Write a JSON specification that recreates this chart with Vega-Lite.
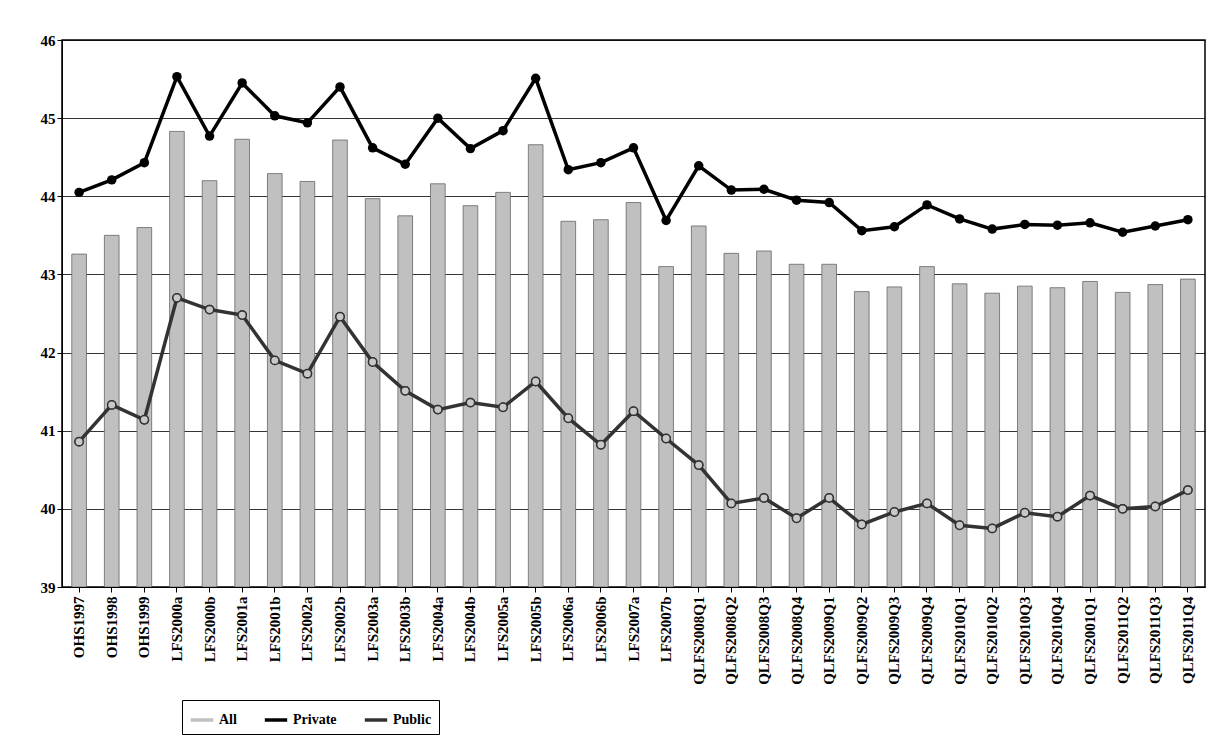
{
  "$schema": "https://vega.github.io/schema/vega-lite/v6.json",
  "width": 1143,
  "height": 547,
  "autosize": "none",
  "padding": {"left": 62, "top": 40, "right": 8, "bottom": 156},
  "background": "white",
  "config": {
    "font": "Liberation Serif",
    "view": {"stroke": "black", "strokeWidth": 1.5},
    "axis": {"labelFont": "Liberation Serif", "labelFontWeight": "bold", "labelColor": "black", "domainColor": "black", "tickColor": "black"}
  },
  "data": {"values": [
    {"c": "OHS1997", "All": 43.26, "Private": 44.05, "Public": 40.86},
    {"c": "OHS1998", "All": 43.5, "Private": 44.21, "Public": 41.33},
    {"c": "OHS1999", "All": 43.6, "Private": 44.43, "Public": 41.14},
    {"c": "LFS2000a", "All": 44.83, "Private": 45.53, "Public": 42.7},
    {"c": "LFS2000b", "All": 44.2, "Private": 44.77, "Public": 42.55},
    {"c": "LFS2001a", "All": 44.73, "Private": 45.45, "Public": 42.48},
    {"c": "LFS2001b", "All": 44.29, "Private": 45.03, "Public": 41.9},
    {"c": "LFS2002a", "All": 44.19, "Private": 44.94, "Public": 41.73},
    {"c": "LFS2002b", "All": 44.72, "Private": 45.4, "Public": 42.46},
    {"c": "LFS2003a", "All": 43.97, "Private": 44.62, "Public": 41.88},
    {"c": "LFS2003b", "All": 43.75, "Private": 44.41, "Public": 41.51},
    {"c": "LFS2004a", "All": 44.16, "Private": 45.0, "Public": 41.27},
    {"c": "LFS2004b", "All": 43.88, "Private": 44.61, "Public": 41.36},
    {"c": "LFS2005a", "All": 44.05, "Private": 44.84, "Public": 41.3},
    {"c": "LFS2005b", "All": 44.66, "Private": 45.51, "Public": 41.63},
    {"c": "LFS2006a", "All": 43.68, "Private": 44.34, "Public": 41.16},
    {"c": "LFS2006b", "All": 43.7, "Private": 44.43, "Public": 40.82},
    {"c": "LFS2007a", "All": 43.92, "Private": 44.62, "Public": 41.25},
    {"c": "LFS2007b", "All": 43.1, "Private": 43.69, "Public": 40.9},
    {"c": "QLFS2008Q1", "All": 43.62, "Private": 44.39, "Public": 40.56},
    {"c": "QLFS2008Q2", "All": 43.27, "Private": 44.08, "Public": 40.07},
    {"c": "QLFS2008Q3", "All": 43.3, "Private": 44.09, "Public": 40.14},
    {"c": "QLFS2008Q4", "All": 43.13, "Private": 43.95, "Public": 39.88},
    {"c": "QLFS2009Q1", "All": 43.13, "Private": 43.92, "Public": 40.14},
    {"c": "QLFS2009Q2", "All": 42.78, "Private": 43.56, "Public": 39.8},
    {"c": "QLFS2009Q3", "All": 42.84, "Private": 43.61, "Public": 39.96},
    {"c": "QLFS2009Q4", "All": 43.1, "Private": 43.89, "Public": 40.07},
    {"c": "QLFS2010Q1", "All": 42.88, "Private": 43.71, "Public": 39.79},
    {"c": "QLFS2010Q2", "All": 42.76, "Private": 43.58, "Public": 39.75},
    {"c": "QLFS2010Q3", "All": 42.85, "Private": 43.64, "Public": 39.95},
    {"c": "QLFS2010Q4", "All": 42.83, "Private": 43.63, "Public": 39.9},
    {"c": "QLFS2001Q1", "All": 42.91, "Private": 43.66, "Public": 40.17},
    {"c": "QLFS2011Q2", "All": 42.77, "Private": 43.54, "Public": 40.0},
    {"c": "QLFS2011Q3", "All": 42.87, "Private": 43.62, "Public": 40.03},
    {"c": "QLFS2011Q4", "All": 42.94, "Private": 43.7, "Public": 40.24}
  ]},
  "encoding": {
    "x": {"field": "c", "type": "nominal", "sort": null, "title": null,
      "scale": {"paddingInner": 0.55, "paddingOuter": 0.3},
      "axis": {"labelAngle": -90, "labelFontSize": 15, "labelPadding": 4, "tickSize": 5, "zindex": 1}}
  },
  "layer": [
    {
      "mark": {"type": "bar", "stroke": "#666", "strokeWidth": 0.8},
      "encoding": {
        "y": {"field": "All", "type": "quantitative", "title": null,
          "scale": {"domain": [39, 46], "nice": false, "zero": false},
          "axis": {"values": [39, 40, 41, 42, 43, 44, 45, 46], "format": "d", "labelFontSize": 15, "grid": true, "gridColor": "black", "gridWidth": 0.8, "tickSize": 5}},
        "y2": {"datum": 39},
        "color": {"datum": "All", "type": "nominal",
          "scale": {"domain": ["All", "Private", "Public"], "range": ["#c0c0c0", "black", "#333333"]},
          "legend": {"orient": "none", "legendX": 120, "legendY": 660, "direction": "horizontal", "title": null,
            "labelFontSize": 14, "labelFontWeight": "bold", "labelColor": "black", "symbolType": "stroke", "symbolSize": 500, "symbolStrokeWidth": 3.5,
            "strokeColor": "black", "padding": 7, "columnPadding": 20, "fillColor": "white"}}
      }
    },
    {
      "transform": [{"fold": ["Private", "Public"], "as": ["s", "v"]}],
      "mark": {"type": "line", "strokeWidth": 3.5, "point": {"size": 90, "filled": true}},
      "encoding": {
        "y": {"field": "v", "type": "quantitative"},
        "color": {"field": "s", "type": "nominal", "title": null}
      }
    },
    {
      "transform": [{"fold": ["Public"], "as": ["s", "v"]}],
      "mark": {"type": "point", "filled": true, "fill": "#c8c8c8", "stroke": "#333", "strokeWidth": 1.5, "size": 70, "opacity": 1},
      "encoding": {"y": {"field": "v", "type": "quantitative"}}
    }
  ]
}
